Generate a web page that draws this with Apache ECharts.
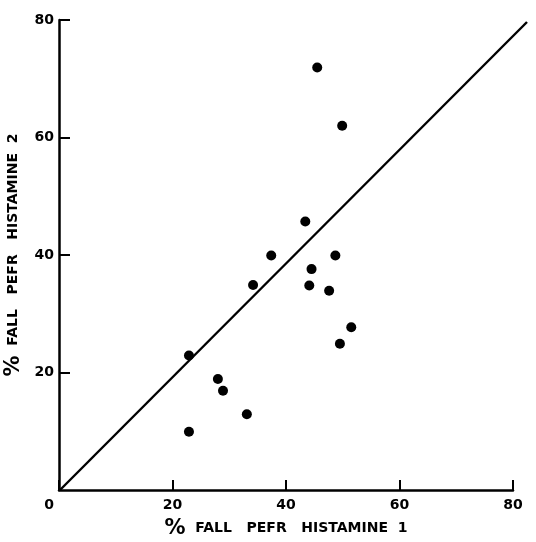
<!DOCTYPE html>
<html>
<head>
<meta charset="utf-8">
<script src="https://cdn.jsdelivr.net/npm/echarts@6/dist/echarts.min.js"></script>
<style>
  html, body { margin: 0; padding: 0; background: #fff; }
  #chart { width: 536px; height: 542px; }
</style>
</head>
<body>
<div id="chart"></div>
<script>
// % fall in PEFR, histamine challenge 1 vs 2
var histamine1 = [45.5, 49.9, 43.4, 37.4, 48.7, 44.5, 34.2, 44.1, 47.6, 51.5, 22.9, 49.5, 28.0, 28.9, 33.1, 22.9];
var histamine2 = [71.9, 62.0, 45.7, 39.9, 39.9, 37.6, 34.9, 34.8, 33.9, 27.7, 22.9, 24.9, 18.9, 16.9, 12.9, 9.9];
// line of identity as drawn (runs a little past the axis end)
var identityX = [0, 82.4];
var identityY = [0, 79.7];
var tickValues = [0, 20, 40, 60, 80];

var points = histamine1.map(function (x, i) { return [x, histamine2[i]]; });
var identity = identityX.map(function (x, i) { return [x, identityY[i]]; });

var FONT = 'DejaVu Sans';
var labelFont = { color: '#000', fontFamily: FONT, fontWeight: 'bold', fontSize: 14 };
var titleFont = {
    color: '#000', fontFamily: FONT, fontWeight: 'bold', fontSize: 14,
    rich: { p: { color: '#000', fontFamily: FONT, fontWeight: 'bold', fontSize: 21 } }
};

var chart = echarts.init(document.getElementById('chart'));
chart.setOption({
    animation: false,
    backgroundColor: '#fff',
    grid: [
        { left: 59, right: 23, top: 20, bottom: 52, outerBoundsMode: 'none', containLabel: false },
        // second grid only for the diagonal, so it can run past x = 80
        { left: 60, right: 9, top: 22, bottom: 52, outerBoundsMode: 'none', containLabel: false }
    ],
    xAxis: [{
        type: 'value',
        gridIndex: 0,
        min: tickValues[0],
        max: tickValues[tickValues.length - 1],
        interval: 20,
        splitLine: { show: false },
        axisLine: { lineStyle: { color: '#000', width: 2.5 } },
        axisTick: { inside: true, length: 10, lineStyle: { color: '#000', width: 2 } },
        axisLabel: Object.assign({}, labelFont, {
            margin: 8,
            formatter: function (v) { return v === 0 ? '{z|0}' : String(v); },
            rich: { z: Object.assign({}, labelFont, { padding: [0, 20, 0, 0] }) }
        }),
        name: '{p|%}  FALL   PEFR   HISTAMINE  1',
        nameLocation: 'middle',
        nameGap: 28,
        nameTextStyle: titleFont
    }, {
        type: 'value',
        gridIndex: 1,
        min: identityX[0],
        max: identityX[1],
        show: false,
        splitLine: { show: false }
    }],
    yAxis: [{
        type: 'value',
        gridIndex: 0,
        min: tickValues[0],
        max: tickValues[tickValues.length - 1],
        interval: 20,
        splitLine: { show: false },
        axisLine: { lineStyle: { color: '#000', width: 2.5 } },
        axisTick: { inside: true, length: 11, lineStyle: { color: '#000', width: 2 } },
        axisLabel: Object.assign({}, labelFont, { margin: 5, showMinLabel: false, padding: [0, 0, 6, 0] }),
        name: '{p|%}  FALL   PEFR   HISTAMINE  2',
        nameLocation: 'middle',
        nameGap: 29,
        nameTextStyle: titleFont
    }, {
        type: 'value',
        gridIndex: 1,
        min: identityY[0],
        max: identityY[1],
        show: false,
        splitLine: { show: false }
    }],
    series: [
        {
            type: 'line',
            xAxisIndex: 1,
            yAxisIndex: 1,
            data: identity,
            symbol: 'none',
            lineStyle: { color: '#000', width: 2.4 }
        },
        {
            type: 'scatter',
            xAxisIndex: 0,
            yAxisIndex: 0,
            data: points,
            symbol: 'circle',
            symbolSize: 10,
            itemStyle: { color: '#000', opacity: 1 }
        }
    ]
});
</script>
</body>
</html>
